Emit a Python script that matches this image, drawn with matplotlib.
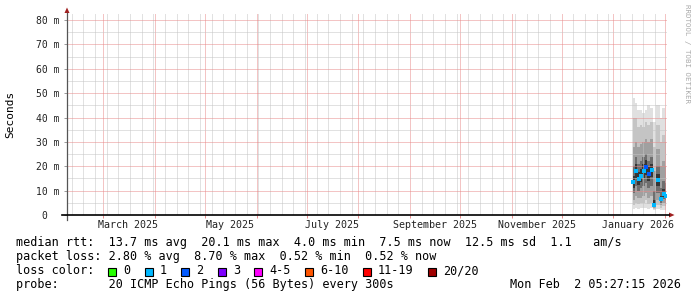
import matplotlib
matplotlib.use("Agg")
import matplotlib.pyplot as plt
import matplotlib.dates as mdates
from matplotlib.lines import Line2D
from matplotlib.patches import Rectangle, Polygon
from matplotlib.ticker import NullFormatter
from matplotlib import transforms
import numpy as np
import pandas as pd

# -----------------------------
# DATA (ms)
# -----------------------------
sample_times = [
    "2026-01-12 20:00", "2026-01-14 15:00", "2026-01-16 10:00", "2026-01-17 15:00",
    "2026-01-19 10:00", "2026-01-20 15:00", "2026-01-22 10:00", "2026-01-24 05:00",
    "2026-01-25 10:00", "2026-01-27 20:00", "2026-01-29 15:00", "2026-01-31 10:00",
    "2026-02-01 15:00",
]
median_ms = [13.5, 18.0, 14.8, 16.0, 18.0, 19.6, 16.8, 18.4, 4.0, 14.3, 6.6, 8.6, 7.8]
loss_bin = [1, 1, 1, 1, 1, 2, 2, 1, 1, 1, 1, 1, 1]

# smoke: spread of the 20 pings per step
ping_min = [2.5, 3.0, 2.5, 3.0, 3.0, 3.0, 2.5, 3.0, 2.0, 2.5, 2.0, 2.0, 2.0]
ping_p10 = [4.0, 5.0, 4.5, 5.0, 5.0, 6.0, 4.5, 5.0, 2.5, 4.0, 3.0, 3.5, 3.5]
ping_p25 = [6.0, 8.0, 7.0, 7.0, 8.0, 9.0, 7.0, 8.0, 3.0, 6.0, 4.0, 5.0, 4.5]
ping_p40 = [9.0, 12.0, 10.0, 11.0, 12.0, 13.0, 11.0, 12.0, 3.5, 9.0, 5.0, 6.5, 6.0]
ping_p45 = [11.0, 15.0, 12.5, 13.5, 15.0, 16.5, 14.0, 15.5, 3.7, 12.0, 5.8, 7.5, 7.0]
ping_p55 = [16.0, 21.0, 17.5, 19.0, 21.0, 22.5, 19.5, 21.0, 6.0, 17.0, 8.0, 10.5, 10.0]
ping_p60 = [20.0, 24.0, 21.0, 22.0, 24.0, 25.0, 22.0, 24.0, 10.0, 20.0, 11.0, 14.0, 13.0]
ping_p75 = [28.0, 30.0, 28.0, 29.0, 30.0, 31.0, 30.0, 31.0, 18.0, 27.0, 20.0, 22.0, 20.0]
ping_p90 = [40.0, 40.0, 36.0, 37.0, 36.0, 38.0, 37.0, 38.0, 28.0, 37.0, 30.0, 33.0, 30.0]
ping_max = [48.0, 46.0, 43.0, 43.0, 42.0, 43.0, 45.0, 44.0, 38.0, 45.0, 40.0, 44.0, 40.0]

graph_end = "2026-02-02 05:27:15"
graph_days = 360

y_ticks = [0, 10, 20, 30, 40, 50, 60, 70, 80]
y_tick_labels = ["0  ", "10 m", "20 m", "30 m", "40 m", "50 m", "60 m", "70 m", "80 m"]
x_label_months = ["2025-03-01", "2025-05-01", "2025-07-01", "2025-09-01", "2025-11-01", "2026-01-01"]
x_label_texts = ["March 2025", "May 2025", "July 2025", "September 2025", "November 2025", "January 2026"]

loss_names = ["0", "1", "2", "3", "4-5", "6-10", "11-19", "20/20"]
loss_colors = ["#26ff00", "#00b8ff", "#0059ff", "#7e00ff", "#ff00ff", "#ff5500", "#ff0000", "#a00000"]

line_rtt = "median rtt:  13.7 ms avg  20.1 ms max  4.0 ms min  7.5 ms now  12.5 ms sd  1.1   am/s"
line_loss = "packet loss: 2.80 % avg  8.70 % max  0.52 % min  0.52 % now"
line_probe = "probe:       20 ICMP Echo Pings (56 Bytes) every 300s"
stamp = "Mon Feb  2 05:27:15 2026"

# -----------------------------
# FIGURE
# -----------------------------
W, H = 697, 297
plt.rcParams["font.family"] = ["DejaVu Sans Mono"]


def fx(x):
    return x / W


def fy(y):
    return 1 - y / H


fig = plt.figure(figsize=(W / 100, H / 100), dpi=100)
ax = fig.add_axes([fx(67), fy(215), 600 / W, 202 / H])

t = pd.to_datetime(sample_times)
end = pd.Timestamp(graph_end)
start = end - pd.Timedelta(days=graph_days)
ax.set_xlim(start, end)
ax.set_ylim(0, 82.9)

# smoke, lighter outside -> darker towards the median
bands = [
    (ping_min, ping_max, "#e0e0e0"),
    (ping_p10, ping_p90, "#c4c4c4"),
    (ping_p25, ping_p75, "#a0a0a0"),
    (ping_p40, ping_p60, "#6e6e6e"),
    (ping_p45, ping_p55, "#363636"),
]
for lo, hi, c in bands:
    ax.fill_between(t, lo, hi, step="mid", color=c, lw=0, zorder=1)

# median, coloured by loss
ax.scatter(t, median_ms, marker="s", s=7, lw=0,
           c=[loss_colors[b] for b in loss_bin], zorder=5)

# grid (dotted)
ax.set_yticks(y_ticks)
ax.set_yticklabels(y_tick_labels)
ax.set_yticks(np.arange(5, 85, 10), minor=True)
ax.xaxis.set_major_locator(mdates.MonthLocator())
ax.xaxis.set_minor_locator(mdates.WeekdayLocator(byweekday=mdates.MO))
ax.xaxis.set_major_formatter(NullFormatter())
ax.grid(which="minor", color="#c4c4c4", ls=(0, (1, 1)), lw=0.72)
ax.grid(which="major", color="#e88a8a", ls=(0, (1, 1)), lw=0.72)
ax.set_axisbelow(False)

ax.tick_params(axis="y", which="major", length=2.2, width=0.7, color="#999999",
               labelsize=7, pad=3.4, labelcolor="#222222")
ax.tick_params(axis="y", which="minor", length=0)
ax.tick_params(axis="x", which="major", length=2, width=0.7, color="#e88a8a")
ax.tick_params(axis="x", which="minor", length=0)
for s in ax.spines.values():
    s.set_visible(False)

# month labels centred in the month
xt = transforms.blended_transform_factory(ax.transData, fig.transFigure)
for m, lab in zip(x_label_months, x_label_texts):
    mid = pd.Timestamp(m) + pd.Timedelta(days=15)
    ax.text(mdates.date2num(mid), fy(224.5), lab, transform=xt, ha="center",
            va="center", fontsize=7.2, color="#222222")

# axis lines + arrows
fig.add_artist(Line2D([fx(67), fx(67)], [fy(220), fy(13)], color="#555555", lw=0.9))
fig.add_artist(Line2D([fx(62), fx(669)], [fy(215), fy(215)], color="black", lw=1.2))
arrow_c = "#a02020"
fig.add_artist(Polygon([(fx(64.5), fy(13)), (fx(69.5), fy(13)), (fx(67), fy(7.5))],
                       closed=True, color=arrow_c, lw=0))
fig.add_artist(Polygon([(fx(669), fy(212.5)), (fx(669), fy(217.5)), (fx(674.5), fy(215))],
                       closed=True, color=arrow_c, lw=0))

# y label + watermark
fig.text(fx(10), fy(114), "Seconds", rotation=90, ha="center", va="center", fontsize=8)
fig.text(fx(687), fy(4), "RRDTOOL / TOBI OETIKER", rotation=270, ha="center", va="top",
         fontsize=5.3, color="#aaaaaa")

# legend rows
fs = 8.5
fig.text(fx(16), fy(246), line_rtt, fontsize=fs, va="baseline")
fig.text(fx(16), fy(260), line_loss, fontsize=fs, va="baseline")
fig.text(fx(16), fy(274), "loss color:", fontsize=fs, va="baseline")
bx = 108
for name, col in zip(loss_names, loss_colors):
    fig.add_artist(Rectangle((fx(bx), fy(275.5)), 8 / W, 8 / H, facecolor=col,
                             edgecolor="black", lw=0.8))
    fig.text(fx(bx + 15), fy(274), name, fontsize=fs, va="baseline")
    bx += 15 + 7.08 * len(name) + 14.5
fig.text(fx(16), fy(288), line_probe, fontsize=fs, va="baseline")
fig.text(fx(681), fy(288), stamp, fontsize=fs, va="baseline", ha="right")

fig.savefig("out.png", dpi=100)
